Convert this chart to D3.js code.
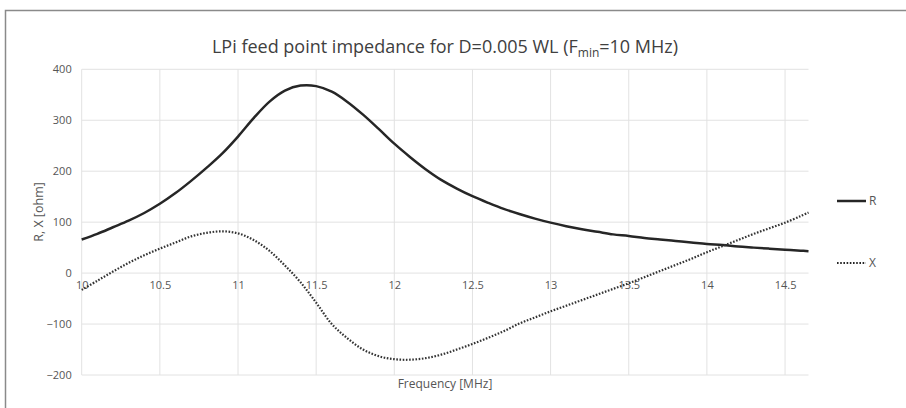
<!DOCTYPE html>
<html>
<head>
<meta charset="utf-8">
<script src="https://cdn.jsdelivr.net/npm/d3@7"></script>
<style>
    body { margin: 0; background: #fff; }
    text { font-family: "Open Sans", "Noto Sans", sans-serif; }
</style>
</head>
<body>
<div id="chart"></div>
<script>
// frequency steps [MHz]
var freq = [10.0, 10.1, 10.2, 10.3, 10.4, 10.5, 10.6, 10.7, 10.8, 10.9,
    11.0, 11.1, 11.2, 11.3, 11.4, 11.5, 11.6, 11.7, 11.8, 11.9,
    12.0, 12.1, 12.2, 12.3, 12.4, 12.5, 12.6, 12.7, 12.8, 12.9,
    13.0, 13.1, 13.2, 13.3, 13.4, 13.5, 13.6, 13.7, 13.8, 13.9,
    14.0, 14.1, 14.2, 14.3, 14.4, 14.5, 14.6, 14.65];

// resistance R [ohm]
var rValues = [66, 77, 90, 103, 118, 136, 157, 181, 207, 235,
    268, 304, 336, 358, 368, 367, 356, 336, 311, 283,
    254, 228, 204, 183, 166, 151, 138, 126, 116, 107,
    99, 92, 86, 81, 76, 73, 69, 66, 63, 60,
    57, 55, 52, 50, 48, 46, 44, 43];

// reactance X [ohm]
var xValues = [-33, -15, 3, 20, 35, 48, 60, 72, 79, 82,
    78, 65, 44, 15, -18, -58, -100, -128, -150, -163,
    -169, -170, -167, -160, -150, -139, -127, -114, -99, -87,
    -75, -64, -53, -42, -31, -20, -8, 4, 16, 28,
    41, 53, 65, 77, 88, 99, 112, 119];

var xTicks = [10, 10.5, 11, 11.5, 12, 12.5, 13, 13.5, 14, 14.5];
var yTicks = [-200, -100, 0, 100, 200, 300, 400];
var seriesNames = ["R", "X"];

var width = 906, height = 408;

var svg = d3.select("#chart")
    .append("svg")
    .attr("width", width)
    .attr("height", height);

// chart area frame (only top and left edges are visible)
svg.append("rect")
    .attr("x", 5.5)
    .attr("y", 10.5)
    .attr("width", 1000)
    .attr("height", 1000)
    .attr("fill", "none")
    .attr("stroke", "#8a8a8a")
    .attr("stroke-width", 1.5);

var x = d3.scaleLinear().domain([10, 14.65]).range([81.7, 808.5]);
var y = d3.scaleLinear().domain([-200, 400]).range([375, 69.3]);

// gridlines
svg.append("g")
    .selectAll("line")
    .data(yTicks)
    .enter()
    .append("line")
    .attr("x1", x(10))
    .attr("x2", x(14.65))
    .attr("y1", function (d) { return y(d); })
    .attr("y2", function (d) { return y(d); })
    .attr("stroke", "#e2e2e2")
    .attr("stroke-width", 1);

svg.append("g")
    .selectAll("line")
    .data(xTicks)
    .enter()
    .append("line")
    .attr("x1", function (d) { return x(d); })
    .attr("x2", function (d) { return x(d); })
    .attr("y1", y(400))
    .attr("y2", y(-200))
    .attr("stroke", "#e2e2e2")
    .attr("stroke-width", 1);

// y axis labels
var yAxis = d3.axisLeft(y).tickValues(yTicks).tickSize(0).tickPadding(10);
var gy = svg.append("g")
    .attr("transform", "translate(" + x(10) + ",0)")
    .call(yAxis);
gy.select(".domain").remove();
gy.selectAll("text")
    .attr("fill", "#555")
    .style("font-size", "11px");

// x axis labels, crossing at 0
var xAxis = d3.axisBottom(x).tickValues(xTicks).tickSize(0).tickPadding(8)
    .tickFormat(function (d) { return String(d); });
var gx = svg.append("g")
    .attr("transform", "translate(0," + y(0) + ")")
    .call(xAxis);
gx.select(".domain").remove();
gx.selectAll("text")
    .attr("fill", "#555")
    .style("font-size", "11px");

var rData = freq.map(function (f, i) { return [f, rValues[i]]; });
var xData = freq.map(function (f, i) { return [f, xValues[i]]; });

var line = d3.line()
    .x(function (d) { return x(d[0]); })
    .y(function (d) { return y(d[1]); })
    .curve(d3.curveCatmullRom);

svg.append("path")
    .datum(rData)
    .attr("d", line)
    .attr("fill", "none")
    .attr("stroke", "#262626")
    .attr("stroke-width", 2.5);

svg.append("path")
    .datum(xData)
    .attr("d", line)
    .attr("fill", "none")
    .attr("stroke", "#333")
    .attr("stroke-width", 2.2)
    .attr("stroke-dasharray", "1.6,1.6");

// title
var title = svg.append("text")
    .attr("x", 445)
    .attr("y", 53)
    .attr("text-anchor", "middle")
    .attr("fill", "#404040")
    .style("font-size", "18px");
title.append("tspan").text("LPi feed point impedance for D=0.005 WL (F");
title.append("tspan")
    .attr("dy", 4)
    .style("font-size", "12px")
    .text("min");
title.append("tspan")
    .attr("dy", -4)
    .text("=10 MHz)");

// axis titles
svg.append("text")
    .attr("transform", "translate(43,212) rotate(-90)")
    .attr("text-anchor", "middle")
    .attr("fill", "#555")
    .style("font-size", "12.5px")
    .text("R, X [ohm]");

svg.append("text")
    .attr("x", 445)
    .attr("y", 388)
    .attr("text-anchor", "middle")
    .attr("fill", "#555")
    .style("font-size", "12px")
    .text("Frequency [MHz]");

// legend
var legend = svg.append("g")
    .selectAll("g")
    .data(seriesNames)
    .enter()
    .append("g")
    .attr("transform", function (d, i) { return "translate(837," + (201 + i * 62) + ")"; });

legend.append("line")
    .attr("x1", 0)
    .attr("x2", 29)
    .attr("stroke", "#262626")
    .attr("stroke-width", function (d) { return d == "R" ? 2.5 : 2.2; })
    .attr("stroke-dasharray", function (d) { return d == "R" ? null : "1.6,1.6"; });

legend.append("text")
    .attr("x", 32)
    .attr("dy", "0.35em")
    .attr("fill", "#555")
    .style("font-size", "12px")
    .text(function (d) { return d; });
</script>
</body>
</html>
